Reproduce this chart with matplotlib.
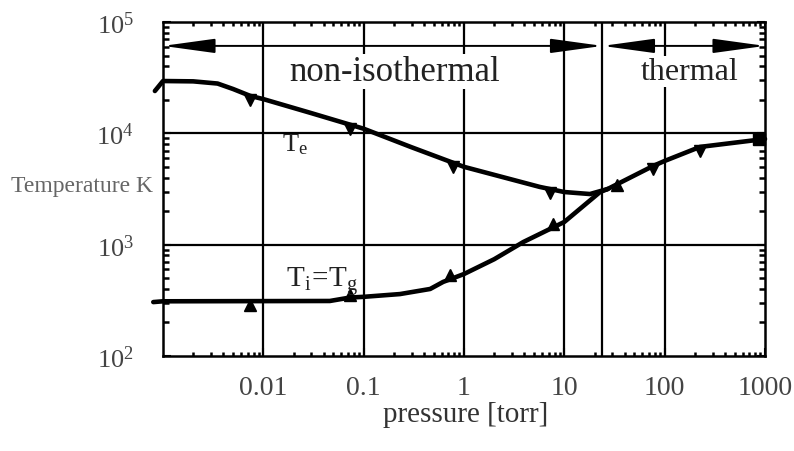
import matplotlib
matplotlib.use("Agg")
import matplotlib.pyplot as plt
from matplotlib.ticker import NullFormatter, FixedLocator

# ---------------- data ----------------
p_te = [0.00083, 0.001, 0.002, 0.0035, 0.005, 0.0074, 0.01, 0.03, 0.1, 0.3, 1, 5.7, 10, 18, 27]
t_e = [2.4e4, 2.95e4, 2.93e4, 2.8e4, 2.5e4, 2.17e4, 2.03e4, 1.52e4, 1.1e4, 7.5e3, 5.0e3, 3.3e3,
       2.97e3, 2.85e3, 3.16e3]

p_ti = [0.0008, 0.001, 0.046, 0.073, 0.1, 0.23, 0.46, 0.62, 1, 2, 3.9, 10, 22.7, 27]
t_i = [305, 310, 312, 335, 340, 360, 400, 463, 545, 740, 1056, 1600, 2970, 3160]

p_eq = [27, 77, 100, 225, 1000]
t_eq = [3160, 5100, 5650, 7550, 8900]

p_te_mark = [0.0074, 0.073, 0.78, 7.2, 77, 225]
t_te_mark = [2.0e4, 1.1e4, 5.0e3, 2.9e3, 4.8e3, 7.0e3]
p_ti_mark = [0.0074, 0.073, 0.73, 7.7, 33.5]
t_ti_mark = [285, 352, 535, 1520, 3400]
p_end_mark = [870]
t_end_mark = [8.9e3]

regime_edges = [1e-3, 24, 1e3]
regime_arrow_T = 6.1e4
regime_labels = ["non-isothermal", "thermal"]

x_ticks = [0.01, 0.1, 1, 10, 100, 1000]
x_ticklabels = ["0.01", "0.1", "1", "10", "100", "1000"]
y_ticks = [1e2, 1e3, 1e4, 1e5]
y_ticklabels = ["$10^2$", "$10^3$", "$10^4$", "$10^5$"]

# ---------------- style ----------------
plt.rcParams["font.family"] = ["Liberation Serif", "DejaVu Serif"]
plt.rcParams["mathtext.default"] = "regular"

fig = plt.figure(figsize=(7.94, 4.52), dpi=100)
ax = fig.add_axes([163 / 794, 1 - 357 / 452, (765 - 163) / 794, (357 - 23) / 452])
ax.set_xscale("log")
ax.set_yscale("log")
ax.set_xlim(1e-3, 1e3)
ax.set_ylim(1e2, 1e5)

# grid
for x in [0.01, 0.1, 1, 10, 100]:
    ax.axvline(x, color="black", lw=1.6, zorder=1)
for y in [1e3, 1e4]:
    ax.axhline(y, color="black", lw=1.6, zorder=1)
ax.axvline(regime_edges[1], color="black", lw=1.6, zorder=1)

# curves
lw = 3.3
for px, py in [(p_te, t_e), (p_ti, t_i), (p_eq, t_eq)]:
    ax.plot(px, py, color="black", lw=lw, clip_on=False, zorder=4,
            solid_joinstyle="round", solid_capstyle="round")
ax.plot(p_te_mark, t_te_mark, linestyle="none", marker="v", ms=9, color="black", zorder=5)
ax.plot(p_ti_mark, t_ti_mark, linestyle="none", marker="^", ms=9, color="black", zorder=5)
ax.plot(p_end_mark, t_end_mark, linestyle="none", marker="s", ms=9, color="black", zorder=5,
        clip_on=False)

# regime arrows
for a, b in zip(regime_edges[:-1], regime_edges[1:]):
    ax.annotate("", xy=(b, regime_arrow_T), xytext=(a, regime_arrow_T),
                arrowprops=dict(arrowstyle="<|-|>,head_length=1.6,head_width=0.22",
                                lw=1.4, color="black", shrinkA=0, shrinkB=0,
                                mutation_scale=20),
                zorder=6, annotation_clip=False)

# regime labels
ax.text(0.385, 0.852, regime_labels[0], transform=ax.transAxes, ha="center", va="center",
        fontsize=25, color="#222222", zorder=7,
        bbox=dict(facecolor="white", edgecolor="none", pad=1.0))
ax.text(0.875, 0.852, regime_labels[1], transform=ax.transAxes, ha="center", va="center",
        fontsize=23, color="#222222", zorder=7,
        bbox=dict(facecolor="white", edgecolor="none", pad=1.0))

# curve labels
ax.text(0.198, 0.635, "$T_e$", transform=ax.transAxes, ha="left", va="center",
        fontsize=19, color="#222222", zorder=7)
ax.text(0.205, 0.225, "$T_i\\!=\\!T_g$", transform=ax.transAxes, ha="left", va="center",
        fontsize=21, color="#222222", zorder=7)

# ticks
minor_x = [m * 10.0 ** k for k in range(-3, 3) for m in range(2, 10)]
minor_y = [m * 10.0 ** k for k in range(2, 5) for m in range(2, 10)]
ax.xaxis.set_major_locator(FixedLocator(x_ticks))
ax.set_xticklabels(x_ticklabels)
ax.xaxis.set_minor_locator(FixedLocator(minor_x))
ax.xaxis.set_minor_formatter(NullFormatter())
ax.yaxis.set_major_locator(FixedLocator(y_ticks))
ax.set_yticklabels(y_ticklabels)
ax.yaxis.set_minor_locator(FixedLocator(minor_y))
ax.yaxis.set_minor_formatter(NullFormatter())

ax.tick_params(which="both", direction="in", top=True, right=True, colors="black")
ax.tick_params(which="major", length=6, width=1.5)
ax.tick_params(which="minor", length=3, width=1.8)
ax.tick_params(axis="y", which="minor", length=4)
ax.tick_params(axis="x", which="major", labelsize=20, pad=14, labelcolor="#444444")
ax.tick_params(axis="y", which="major", labelsize=19, pad=21, labelcolor="#444444")

for s in ax.spines.values():
    s.set_linewidth(1.8)
    s.set_zorder(8)

fig.text(466 / 794, 1 - 415 / 452, "pressure [torr]", ha="center", va="center",
         fontsize=21, color="#333333")
fig.text(82 / 794, 1 - 187 / 452, "Temperature K", ha="center", va="center",
         fontsize=17, color="#666666")

fig.savefig("out.png", dpi=100)
